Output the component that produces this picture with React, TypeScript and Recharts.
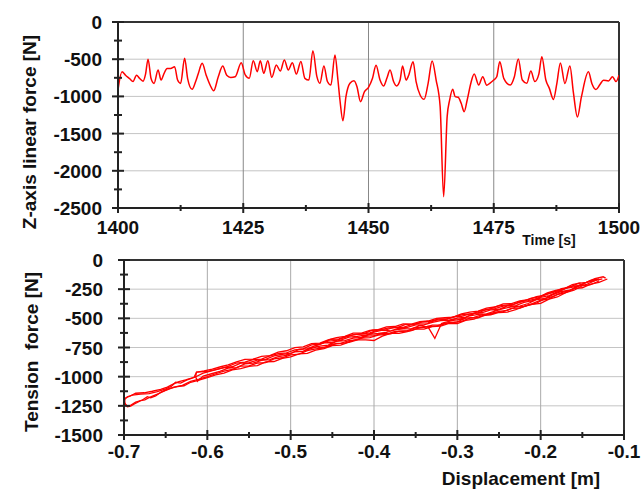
import React from 'react';
import { LineChart, Line, XAxis, YAxis, ReferenceLine } from 'recharts';

// ---------- Top chart: Z-axis linear force vs time ----------
const zForceSeries: [number, number][] = [
  [1400.0, -914], [1400.8, -670], [1401.5, -715], [1402.3, -760], [1403.0, -800], [1403.7, -715],
  [1404.3, -757], [1405.0, -795], [1405.5, -700], [1406.0, -500], [1406.6, -760], [1407.2, -825],
  [1408.0, -645], [1408.6, -780], [1409.2, -690], [1409.8, -625], [1410.5, -625], [1411.3, -600],
  [1411.9, -780], [1412.5, -825], [1413.3, -488], [1413.9, -760], [1414.8, -905], [1415.5, -800],
  [1416.0, -700], [1416.8, -555], [1417.6, -715], [1418.4, -850], [1419.1, -925], [1420.0, -740],
  [1420.9, -590], [1421.7, -715], [1422.5, -745], [1423.4, -735], [1424.6, -547], [1425.4, -712],
  [1426.2, -757], [1427.0, -520], [1427.8, -667], [1428.4, -520], [1429.1, -690], [1429.9, -520],
  [1430.7, -744], [1431.6, -578], [1432.4, -660], [1433.2, -510], [1434.0, -645], [1434.8, -547],
  [1435.6, -700], [1436.5, -530], [1437.3, -757], [1438.1, -780], [1438.9, -385], [1439.7, -735],
  [1440.3, -824], [1441.1, -591], [1441.8, -800], [1442.5, -847], [1443.3, -443], [1443.9, -780],
  [1444.3, -1048], [1444.9, -1326], [1445.5, -1003], [1446.3, -824], [1447.1, -789], [1447.7, -869],
  [1448.4, -1071], [1449.2, -936], [1450.0, -878], [1450.8, -757], [1451.5, -582], [1452.3, -780],
  [1453.0, -860], [1453.7, -750], [1454.3, -645], [1455.0, -800], [1455.6, -860], [1456.3, -780],
  [1456.8, -591], [1457.5, -780], [1458.0, -720], [1458.9, -533], [1459.5, -800], [1460.3, -981],
  [1461.1, -1039], [1461.9, -824], [1462.7, -524], [1463.5, -780], [1464.3, -1138], [1465.0, -2348],
  [1465.7, -1272], [1466.2, -1048], [1466.8, -905], [1467.3, -1003], [1467.9, -1012], [1468.5, -1093],
  [1469.1, -1205], [1469.7, -1048], [1470.5, -802], [1471.1, -700], [1472.0, -847], [1472.8, -735],
  [1473.6, -850], [1474.2, -824], [1475.0, -780], [1475.6, -735], [1476.2, -533], [1477.0, -757],
  [1478.3, -847], [1479.1, -740], [1479.9, -497], [1480.7, -780], [1481.6, -824], [1482.4, -660],
  [1483.2, -800], [1484.0, -700], [1484.6, -466], [1485.4, -780], [1486.1, -892], [1486.9, -1040],
  [1487.6, -824], [1488.3, -550], [1489.2, -827], [1490.2, -590], [1490.9, -950], [1491.7, -1276],
  [1492.5, -1007], [1493.9, -670], [1494.6, -830], [1495.4, -907], [1496.2, -840], [1496.9, -782],
  [1497.9, -793], [1498.7, -737], [1499.4, -800], [1500.0, -714],
];
const timeMajorTicks = [1400, 1425, 1450, 1475, 1500];
const timeMinorTicks = [1412.5, 1437.5, 1462.5, 1487.5];
const zMajorTicks = [-2500, -2000, -1500, -1000, -500, 0];
const zMinorTicks = [-2250, -1750, -1250, -750, -250];

// ---------- Bottom chart: tension force vs displacement (loops) ----------
const loopA: [number, number][] = [
  [-0.12, -163], [-0.13, -192], [-0.14, -206], [-0.15, -238], [-0.16, -246], [-0.17, -279], [-0.18, -296],
  [-0.19, -333], [-0.2, -345], [-0.21, -373], [-0.22, -398], [-0.23, -403], [-0.24, -432], [-0.25, -440],
  [-0.26, -465], [-0.27, -468], [-0.28, -492], [-0.29, -499], [-0.3, -531], [-0.31, -537], [-0.32, -559],
  [-0.33, -558], [-0.34, -578], [-0.35, -580], [-0.36, -605], [-0.37, -610], [-0.38, -633], [-0.39, -630],
  [-0.4, -649], [-0.41, -655], [-0.42, -684], [-0.43, -691], [-0.44, -715], [-0.45, -721], [-0.46, -753],
  [-0.47, -761], [-0.48, -776], [-0.49, -806], [-0.5, -814], [-0.51, -838], [-0.52, -847], [-0.53, -879],
  [-0.54, -883], [-0.55, -907], [-0.56, -910], [-0.57, -938], [-0.58, -952], [-0.59, -975], [-0.6, -1000],
  [-0.61, -1022], [-0.62, -1040], [-0.63, -1075], [-0.64, -1090], [-0.65, -1118], [-0.66, -1150],
  [-0.67, -1180], [-0.675, -1198], [-0.68, -1205], [-0.687, -1232], [-0.692, -1252], [-0.696, -1258],
  [-0.699, -1230], [-0.699, -1195], [-0.696, -1172], [-0.69, -1158], [-0.68, -1150], [-0.67, -1146],
  [-0.66, -1128], [-0.65, -1105], [-0.643, -1082], [-0.638, -1048], [-0.632, -1055], [-0.625, -1030],
  [-0.615, -1005], [-0.605, -970], [-0.595, -950], [-0.585, -932], [-0.575, -912], [-0.565, -883],
  [-0.555, -876], [-0.545, -853], [-0.535, -850], [-0.525, -822], [-0.515, -802], [-0.505, -796],
  [-0.495, -771], [-0.485, -761], [-0.475, -728], [-0.465, -721], [-0.455, -696], [-0.445, -689],
  [-0.435, -664], [-0.425, -641], [-0.415, -635], [-0.405, -624], [-0.395, -600], [-0.385, -597],
  [-0.375, -575], [-0.365, -578], [-0.355, -555], [-0.345, -541], [-0.335, -539], [-0.325, -516],
  [-0.315, -510], [-0.305, -487], [-0.295, -484], [-0.285, -462], [-0.275, -453], [-0.265, -424],
  [-0.255, -417], [-0.245, -396], [-0.235, -388], [-0.225, -357], [-0.215, -349], [-0.205, -332],
  [-0.195, -297], [-0.185, -277], [-0.175, -245], [-0.165, -232], [-0.155, -200], [-0.145, -191],
  [-0.135, -159], [-0.125, -144], [-0.122, -155],
];
const loopB: [number, number][] = [
  [-0.13, -180], [-0.14, -212], [-0.15, -221], [-0.16, -259], [-0.17, -280], [-0.18, -317], [-0.19, -335],
  [-0.2, -372], [-0.21, -381], [-0.22, -398], [-0.23, -426], [-0.24, -446], [-0.25, -450], [-0.26, -471],
  [-0.27, -477], [-0.28, -506], [-0.29, -518], [-0.3, -545], [-0.31, -544], [-0.32, -566], [-0.33, -571],
  [-0.34, -593], [-0.35, -591], [-0.36, -614], [-0.37, -629], [-0.38, -629], [-0.39, -652], [-0.4, -690],
  [-0.41, -684], [-0.42, -685], [-0.43, -705], [-0.44, -729], [-0.45, -733], [-0.46, -760], [-0.47, -773],
  [-0.48, -801], [-0.49, -805], [-0.5, -831], [-0.51, -844], [-0.52, -870], [-0.53, -873], [-0.54, -905],
  [-0.55, -911], [-0.56, -932], [-0.57, -942], [-0.58, -969], [-0.59, -985], [-0.6, -1008], [-0.61, -1030],
  [-0.62, -1048], [-0.628, -1078], [-0.636, -1085], [-0.645, -1100], [-0.655, -1130], [-0.662, -1165],
  [-0.668, -1182], [-0.672, -1172], [-0.678, -1200], [-0.686, -1218], [-0.693, -1250], [-0.697, -1248],
  [-0.7, -1215], [-0.699, -1185], [-0.693, -1168], [-0.686, -1142], [-0.676, -1138], [-0.666, -1125],
  [-0.656, -1108], [-0.648, -1090], [-0.64, -1060], [-0.634, -1042], [-0.626, -1028], [-0.616, -1005],
  [-0.613, -962], [-0.604, -950], [-0.594, -935], [-0.584, -915], [-0.575, -899], [-0.565, -873],
  [-0.555, -852], [-0.545, -850], [-0.535, -826], [-0.525, -820], [-0.515, -789], [-0.505, -778],
  [-0.495, -751], [-0.485, -744], [-0.475, -716], [-0.465, -712], [-0.455, -685], [-0.445, -665],
  [-0.435, -655], [-0.425, -627], [-0.415, -627], [-0.405, -603], [-0.395, -597], [-0.385, -574],
  [-0.375, -570], [-0.365, -548], [-0.355, -549], [-0.345, -528], [-0.335, -523], [-0.325, -500],
  [-0.315, -495], [-0.305, -489], [-0.295, -461], [-0.285, -447], [-0.275, -438], [-0.265, -412],
  [-0.255, -403], [-0.245, -376], [-0.235, -374], [-0.225, -351], [-0.215, -340], [-0.205, -313],
  [-0.195, -301], [-0.185, -273], [-0.175, -259], [-0.165, -226], [-0.155, -219], [-0.145, -191],
  [-0.135, -177], [-0.126, -161],
];
const loopC: [number, number][] = [
  [-0.135, -177], [-0.145, -210], [-0.155, -226], [-0.165, -259], [-0.175, -270], [-0.185, -298],
  [-0.195, -330], [-0.205, -340], [-0.215, -373], [-0.225, -396], [-0.235, -402], [-0.245, -416],
  [-0.255, -439], [-0.265, -462], [-0.275, -466], [-0.285, -478], [-0.295, -508], [-0.305, -517],
  [-0.315, -535], [-0.319, -545], [-0.327, -672], [-0.335, -576], [-0.345, -562], [-0.355, -588],
  [-0.365, -591], [-0.375, -598], [-0.385, -620], [-0.395, -630], [-0.405, -637], [-0.415, -663],
  [-0.425, -669], [-0.435, -691], [-0.445, -697], [-0.455, -730], [-0.465, -738], [-0.475, -758],
  [-0.485, -782], [-0.495, -787], [-0.505, -818], [-0.515, -829], [-0.525, -854], [-0.535, -860],
  [-0.545, -884], [-0.555, -890], [-0.565, -922], [-0.575, -927], [-0.585, -955], [-0.595, -975],
  [-0.605, -995], [-0.612, -1040], [-0.614, -1000], [-0.613, -960], [-0.6, -955], [-0.59, -940],
  [-0.58, -923], [-0.57, -915], [-0.56, -884], [-0.55, -879], [-0.54, -859], [-0.53, -851], [-0.52, -822],
  [-0.51, -808], [-0.5, -800], [-0.49, -767], [-0.48, -759], [-0.47, -734], [-0.46, -710], [-0.45, -707],
  [-0.44, -686], [-0.43, -661], [-0.42, -654], [-0.41, -643], [-0.4, -618], [-0.39, -602], [-0.38, -607],
  [-0.37, -583], [-0.36, -577], [-0.35, -556], [-0.34, -556], [-0.33, -535], [-0.32, -519], [-0.31, -516],
  [-0.3, -498], [-0.29, -490], [-0.28, -457], [-0.27, -450], [-0.26, -428], [-0.25, -422], [-0.24, -393],
  [-0.23, -391], [-0.22, -364], [-0.21, -348], [-0.2, -320], [-0.19, -305], [-0.18, -272], [-0.17, -244],
  [-0.16, -230], [-0.15, -208], [-0.14, -174], [-0.13, -163],
];
const loopD: [number, number][] = [
  [-0.152, -196], [-0.162, -210], [-0.172, -247], [-0.182, -261], [-0.192, -282], [-0.202, -317],
  [-0.212, -328], [-0.222, -356], [-0.232, -378], [-0.242, -386], [-0.252, -396], [-0.262, -424],
  [-0.272, -434], [-0.282, -461], [-0.292, -465], [-0.302, -484], [-0.312, -506], [-0.322, -505],
  [-0.332, -525], [-0.342, -530], [-0.352, -552], [-0.362, -551], [-0.372, -580], [-0.382, -581],
  [-0.392, -597], [-0.402, -602], [-0.412, -630], [-0.422, -637], [-0.432, -651], [-0.442, -677],
  [-0.452, -681], [-0.462, -710], [-0.47, -735], [-0.465, -753], [-0.455, -743], [-0.445, -715],
  [-0.435, -712], [-0.425, -689], [-0.415, -670], [-0.405, -666], [-0.395, -644], [-0.385, -638],
  [-0.375, -613], [-0.365, -612], [-0.355, -605], [-0.345, -579], [-0.335, -570], [-0.325, -566],
  [-0.315, -541], [-0.305, -536], [-0.295, -526], [-0.285, -499], [-0.275, -495], [-0.265, -468],
  [-0.255, -449], [-0.245, -442], [-0.235, -415], [-0.225, -413], [-0.215, -386], [-0.205, -370],
  [-0.195, -331], [-0.185, -311], [-0.175, -279], [-0.165, -261], [-0.155, -224],
];
const tensionLoops = [loopA, loopB, loopC, loopD];
const dispMajorTicks = [-0.7, -0.6, -0.5, -0.4, -0.3, -0.2, -0.1];
const dispMinorTicks = [-0.65, -0.55, -0.45, -0.35, -0.25, -0.15];
const tensionMajorTicks = [-1500, -1250, -1000, -750, -500, -250, 0];
const tensionMinorTicks = [-1375, -1125, -875, -625, -375, -125];

const FONT = '"Liberation Sans", Arial, sans-serif';
const RED = '#ff0000';
const AXIS = '#222';

const topData = zForceSeries.map(([t, f]) => ({ t, f }));
const loopData = tensionLoops.map((loop) => loop.map(([d, v]) => ({ d, v })));

function makeXTick(majors: number[], labelOffset: number) {
  return (props: any) => {
    const { x, y, payload } = props;
    const isMajor = majors.some((m) => Math.abs(m - payload.value) < 1e-9);
    const h = isMajor ? 5 : 3;
    return (
      <g>
        <line x1={x} x2={x} y1={y - h} y2={y + h} stroke={AXIS} strokeWidth={2} />
        {isMajor && (
          <text x={x} y={y + labelOffset} textAnchor="middle" fontFamily={FONT} fontWeight="bold" fontSize={19} fill="#111">
            {String(payload.value)}
          </text>
        )}
      </g>
    );
  };
}

function makeYTick(majors: number[], labelGap: number) {
  return (props: any) => {
    const { x, y, payload } = props;
    const isMajor = majors.some((m) => Math.abs(m - payload.value) < 1e-9);
    const w = isMajor ? 6 : 4;
    return (
      <g>
        <line x1={x - w} x2={x + w} y1={y} y2={y} stroke={AXIS} strokeWidth={2} />
        {isMajor && (
          <text x={x - labelGap} y={y + 7} textAnchor="end" fontFamily={FONT} fontWeight="bold" fontSize={19} fill="#111">
            {String(payload.value)}
          </text>
        )}
      </g>
    );
  };
}

const sortAsc = (a: number[], b: number[]) => [...a, ...b].sort((p, q) => p - q);

const titleStyle: React.CSSProperties = {
  position: 'absolute',
  fontFamily: FONT,
  fontWeight: 'bold',
  color: '#111',
  whiteSpace: 'pre',
  lineHeight: 1,
};

export default function App() {
  return (
    <div style={{ position: 'absolute', left: 0, top: 0, width: 642, height: 491, background: '#fff', overflow: 'hidden' }}>
      <div style={{ position: 'absolute', left: 0, top: 0 }}>
        <LineChart width={642} height={250} data={topData} margin={{ top: 22, right: 23, bottom: 12, left: 0 }}>
          <XAxis
            dataKey="t"
            type="number"
            domain={[1400, 1500]}
            ticks={sortAsc(timeMajorTicks, timeMinorTicks)}
            interval={0}
            height={30}
            tickSize={0}
            tickMargin={0}
            tickLine={false}
            axisLine={{ stroke: AXIS, strokeWidth: 2 }}
            tick={makeXTick(timeMajorTicks, 26)}
            allowDataOverflow
          />
          <YAxis
            type="number"
            domain={[-2500, 0]}
            ticks={sortAsc(zMajorTicks, zMinorTicks)}
            interval={0}
            width={118}
            tickSize={0}
            tickMargin={0}
            tickLine={false}
            axisLine={{ stroke: AXIS, strokeWidth: 2 }}
            tick={makeYTick(zMajorTicks, 16)}
            allowDataOverflow
          />
          {zMajorTicks.filter((v) => v !== 0 && v !== -2500).map((v) => (
            <ReferenceLine key={'zy' + v} y={v} stroke="#c4c4c4" strokeWidth={1} />
          ))}
          {timeMajorTicks.filter((v) => v !== 1400 && v !== 1500).map((v) => (
            <ReferenceLine key={'tx' + v} x={v} stroke="#888" strokeWidth={1} />
          ))}
          <ReferenceLine y={0} stroke="#333" strokeWidth={2} />
          <ReferenceLine x={1500} stroke="#333" strokeWidth={2} />
          <Line type="monotoneX" dataKey="f" stroke={RED} strokeWidth={1.5} dot={false} isAnimationActive={false} />
        </LineChart>
      </div>
      <div style={{ position: 'absolute', left: 0, top: 250 }}>
        <LineChart width={642} height={241} margin={{ top: 10, right: 18, bottom: 26, left: 0 }}>
          <XAxis
            dataKey="d"
            type="number"
            domain={[-0.7, -0.1]}
            ticks={sortAsc(dispMajorTicks, dispMinorTicks)}
            interval={0}
            height={30}
            tickSize={0}
            tickMargin={0}
            tickLine={false}
            axisLine={{ stroke: AXIS, strokeWidth: 2 }}
            tick={makeXTick(dispMajorTicks, 23)}
            allowDataOverflow
          />
          <YAxis
            type="number"
            domain={[-1500, 0]}
            ticks={sortAsc(tensionMajorTicks, tensionMinorTicks)}
            interval={0}
            width={124}
            tickSize={0}
            tickMargin={0}
            tickLine={false}
            axisLine={{ stroke: AXIS, strokeWidth: 2 }}
            tick={makeYTick(tensionMajorTicks, 21)}
            allowDataOverflow
          />
          {tensionMajorTicks.filter((v) => v !== 0 && v !== -1500).map((v) => (
            <ReferenceLine key={'ty' + v} y={v} stroke="#c4c4c4" strokeWidth={1} />
          ))}
          {dispMajorTicks.filter((v) => v !== -0.7 && v !== -0.1).map((v) => (
            <ReferenceLine key={'dx' + v} x={v} stroke="#aaa" strokeWidth={1} />
          ))}
          <ReferenceLine y={0} stroke="#333" strokeWidth={2} />
          <ReferenceLine x={-0.1} stroke="#333" strokeWidth={2} />
          {loopData.map((data, i) => (
            <Line
              key={'loop' + i}
              data={data}
              type="linear"
              dataKey="v"
              stroke={RED}
              strokeWidth={1.3}
              dot={false}
              isAnimationActive={false}
            />
          ))}
        </LineChart>
      </div>
      <div style={{ ...titleStyle, fontSize: 19, left: 29, top: 132, transform: 'translate(-50%, -50%) rotate(-90deg)' }}>
        Z-axis linear force [N]
      </div>
      <div style={{ ...titleStyle, fontSize: 14, left: 549, top: 240, transform: 'translate(-50%, -50%)' }}>
        Time [s]
      </div>
      <div style={{ ...titleStyle, fontSize: 19, left: 31, top: 352, transform: 'translate(-50%, -50%) rotate(-90deg)' }}>
        {'Tension  force [N]'}
      </div>
      <div style={{ ...titleStyle, fontSize: 19, left: 521, top: 478, transform: 'translate(-50%, -50%)' }}>
        Displacement [m]
      </div>
    </div>
  );
}
